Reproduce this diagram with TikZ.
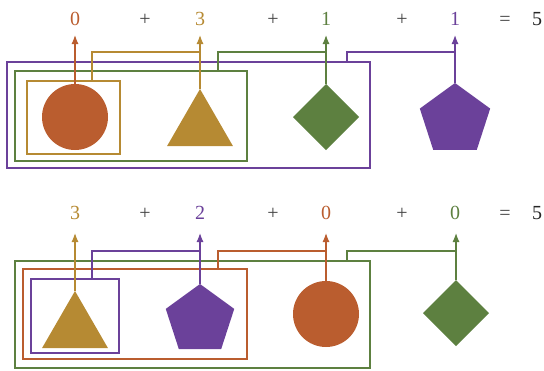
\documentclass[tikz,border=0pt]{standalone}
\usepackage{fontspec}
\setmainfont{Liberation Serif}
\usetikzlibrary{shapes.geometric,arrows.meta}
\definecolor{corange}{HTML}{BA5D2F}
\definecolor{cgold}{HTML}{B68A33}
\definecolor{cgreen}{HTML}{5D8040}
\definecolor{cpurple}{HTML}{6B419A}
\definecolor{cop}{HTML}{444444}
\begin{document}
\begin{tikzpicture}[x=1pt,y=-1pt,
  shp/.style={draw=none,inner sep=0pt,outer sep=0pt},
  circ/.style={shp,circle,minimum size=66pt},
  tri/.style={shp,regular polygon,regular polygon sides=3,minimum size=76pt},
  pent/.style={shp,regular polygon,regular polygon sides=5},
  diam/.style={shp,diamond,minimum width=66pt,minimum height=66pt},
  box/.style={draw,line width=1.2pt,fill=none,inner sep=0pt,outer sep=0pt},
  lab/.style={font=\fontsize{20}{24}\selectfont,inner sep=0pt,anchor=base},
  opr/.style={lab,text=cop},
  arr/.style={line width=1.2pt,-{Latex[length=9pt,width=7pt]}},
  con/.style={line width=1.2pt}]
\useasboundingbox (0,0) rectangle (544,370);

% ---------- top row ----------
\node[lab,text=corange] (l1) at (75,25.7) {0};
\node[opr] (p1) at (145,25.7) {+};
\node[lab,text=cgold] (l2) at (200,25.7) {3};
\node[opr] (p2) at (273,25.7) {+};
\node[lab,text=cgreen] (l3) at (326,25.7) {1};
\node[opr] (p3) at (402,25.7) {+};
\node[lab,text=cpurple] (l4) at (455,25.7) {1};
\node[opr] (eq1) at (505,25.7) {=};
\node[lab,text=black!85] (r1) at (537,25.7) {5};

\node[box,draw=cpurple,minimum width=363pt,minimum height=106pt] (b3) at (188.5,115) {};
\node[box,draw=cgreen,minimum width=232pt,minimum height=90pt] (b2) at (131,116) {};
\node[box,draw=cgold,minimum width=93pt,minimum height=73pt] (b1) at (73.5,117.5) {};

\node[circ,fill=corange] (s1) at (75,117) {};
\node[tri,fill=cgold] (s2) at (200,127) {};
\node[diam,fill=cgreen] (s3) at (326,117) {};
\node[pent,fill=cpurple,minimum size=74pt] (s4) at (455,120) {};

\coordinate (t1) at (75,35);
\coordinate (t2) at (200,35);
\coordinate (t3) at (326,35);
\coordinate (t4) at (455,35);
\coordinate (j2) at (200,52);
\coordinate (j3) at (326,52);
\coordinate (j4) at (455,52);
\coordinate (o1) at (92,81);
\coordinate (o2) at (218,71);
\coordinate (o3) at (347,62);

\draw[con,cgold] (o1) |- (j2);
\draw[con,cgreen] (o2) |- (j3);
\draw[con,cpurple] (o3) |- (j4);
\draw[arr,corange] (s1.north) -- (t1);
\draw[arr,cgold] (s2.north) -- (t2);
\draw[arr,cgreen] (s3.north) -- (t3);
\draw[arr,cpurple] (s4.north) -- (t4);

% ---------- bottom row ----------
\node[lab,text=cgold] (m1) at (75,219.3) {3};
\node[opr] (q1) at (145,219.3) {+};
\node[lab,text=cpurple] (m2) at (200,219.3) {2};
\node[opr] (q2) at (273,219.3) {+};
\node[lab,text=corange] (m3) at (326,219.3) {0};
\node[opr] (q3) at (402,219.3) {+};
\node[lab,text=cgreen] (m4) at (455,219.3) {0};
\node[opr] (eq2) at (505,219.3) {=};
\node[lab,text=black!85] (r2) at (537,219.3) {5};

\node[box,draw=cgreen,minimum width=355pt,minimum height=107pt] (b6) at (192.5,314.5) {};
\node[box,draw=corange,minimum width=224pt,minimum height=90pt] (b5) at (135,314) {};
\node[box,draw=cpurple,minimum width=88pt,minimum height=74pt] (b4) at (75,316) {};

\node[tri,fill=cgold] (u1) at (75,329) {};
\node[pent,fill=cpurple,minimum size=72pt] (u2) at (200,320) {};
\node[circ,fill=corange] (u3) at (326,314) {};
\node[diam,fill=cgreen] (u4) at (456,313) {};

\coordinate (v1) at (75,233);
\coordinate (v2) at (200,233);
\coordinate (v3) at (326,233);
\coordinate (v4) at (456,233);
\coordinate (k2) at (200,251);
\coordinate (k3) at (326,251);
\coordinate (k4) at (456,251);
\coordinate (w1) at (92,279);
\coordinate (w2) at (218,269);
\coordinate (w3) at (347,261);

\draw[con,cpurple] (w1) |- (k2);
\draw[con,corange] (w2) |- (k3);
\draw[con,cgreen] (w3) |- (k4);
\draw[arr,cgold] (u1.north) -- (v1);
\draw[arr,cpurple] (u2.north) -- (v2);
\draw[arr,corange] (u3.north) -- (v3);
\draw[arr,cgreen] (u4.north) -- (v4);
\end{tikzpicture}
\end{document}
